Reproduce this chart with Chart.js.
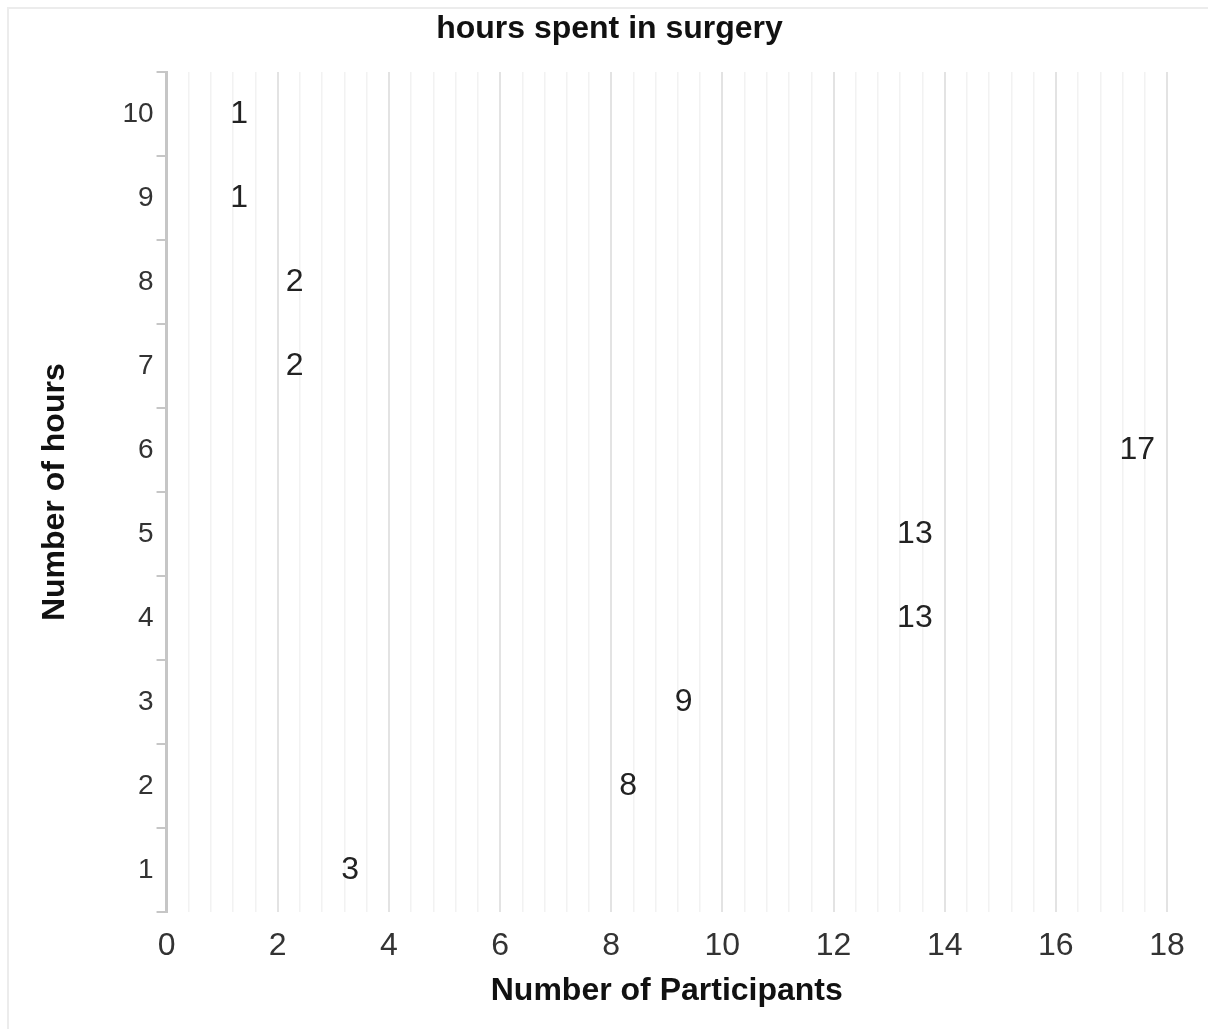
<!DOCTYPE html>
<html lang="en">
<head>
  <meta charset="UTF-8">
  <title>hours spent in surgery</title>
  <script src="https://cdn.jsdelivr.net/npm/chart.js"></script>
<style>
  body {
    margin: 0;
    background: #ffffff;
    font-family: 'Liberation Sans', Arial, sans-serif;
  }

  .wrap {
    position: relative;
    width: 1208px;
    height: 1029px;
    overflow: hidden;
  }

  .frame {
    position: absolute;
    left: 7px;
    top: 7px;
    right: 0;
    bottom: 0;
    border-top: 2px solid #ececec;
    border-left: 2px solid #ececec;
    pointer-events: none;
  }

  h1 {
    position: absolute;
    top: 8px;
    left: 0;
    width: 100%;
    margin: 0;
    padding-left: 11px;
    box-sizing: border-box;
    text-align: center;
    font-size: 32px;
    line-height: 38px;
    font-weight: bold;
    color: #111;
    z-index: 2;
  }

  canvas {
    position: absolute;
    left: 0;
    top: 0;
  }
</style>
</head>
<body>
  <div class="wrap">
    <div class="frame"></div>
    <h1>hours spent in surgery</h1>
    <canvas id="surgeryChart" width="1208" height="1029"></canvas>
  </div>

<script>
  // 수술 시간(시간) 별 참가자 수
  const hours = ["1", "2", "3", "4", "5", "6", "7", "8", "9", "10"];
  const participants = [3, 8, 9, 13, 13, 17, 2, 2, 1, 1];

  const xMin = 0;
  const xMax = 18;
  const xStep = 0.4;   // minor grid step
  const xLabelStep = 2;

  const fontFamily = "'Liberation Sans', Arial, sans-serif";

  function isMajor(v) {
    return Math.abs(v / xLabelStep - Math.round(v / xLabelStep)) < 1e-6;
  }

  // 막대 끝에 값 표시
  const valueLabels = {
    id: "valueLabels",
    afterDatasetsDraw(chart) {
      const ctx = chart.ctx;
      const meta = chart.getDatasetMeta(0);
      ctx.save();
      ctx.font = "32px " + fontFamily;
      ctx.fillStyle = "#222";
      ctx.textAlign = "left";
      ctx.textBaseline = "middle";
      meta.data.forEach((bar, i) => {
        ctx.fillText(String(participants[i]), bar.x + 8, bar.y);
      });
      ctx.restore();
    }
  };

  new Chart(document.getElementById("surgeryChart"), {
    type: "bar",
    data: {
      labels: hours,
      datasets: [{
        label: "Number of Participants",
        data: participants,
        backgroundColor: "rgba(0,0,0,0)",
        borderWidth: 0
      }]
    },
    options: {
      indexAxis: "y",
      responsive: false,
      devicePixelRatio: 1,
      animation: false,
      layout: {
        padding: { top: 72, right: 41, bottom: 0, left: 0 }
      },
      plugins: {
        legend: { display: false },
        title: { display: false },
        tooltip: { enabled: false }
      },
      scales: {
        x: {
          min: xMin,
          max: xMax,
          border: { display: false },
          grid: {
            drawTicks: false,
            color: ctx => isMajor(ctx.tick.value) ? "#e3e3e3" : "#f2f2f2",
            lineWidth: ctx => isMajor(ctx.tick.value) ? 2 : 1.5
          },
          ticks: {
            stepSize: xStep,
            autoSkip: false,
            maxRotation: 0,
            padding: 15,
            color: "#333",
            font: { family: fontFamily, size: 32, lineHeight: 1.2 },
            callback: v => isMajor(v) ? String(Math.round(v)) : ""
          },
          title: {
            display: true,
            text: "Number of Participants",
            color: "#111",
            font: { family: fontFamily, size: 32, weight: "bold", lineHeight: 0.6 },
            padding: { top: 1, bottom: 28 }
          }
        },
        y: {
          reverse: true,
          border: { display: true, color: "#c6c6c6", width: 3 },
          grid: {
            offset: true,
            drawOnChartArea: false,
            drawTicks: true,
            tickLength: 10,
            color: "#c6c6c6",
            lineWidth: 2
          },
          ticks: {
            padding: 3,
            color: "#333",
            font: { family: fontFamily, size: 28 }
          },
          title: {
            display: true,
            text: "Number of hours",
            color: "#111",
            font: { family: fontFamily, size: 32, weight: "bold", lineHeight: 1.2 },
            padding: { top: 36, bottom: 45 }
          }
        }
      }
    },
    plugins: [valueLabels]
  });
</script>
</body>
</html>
